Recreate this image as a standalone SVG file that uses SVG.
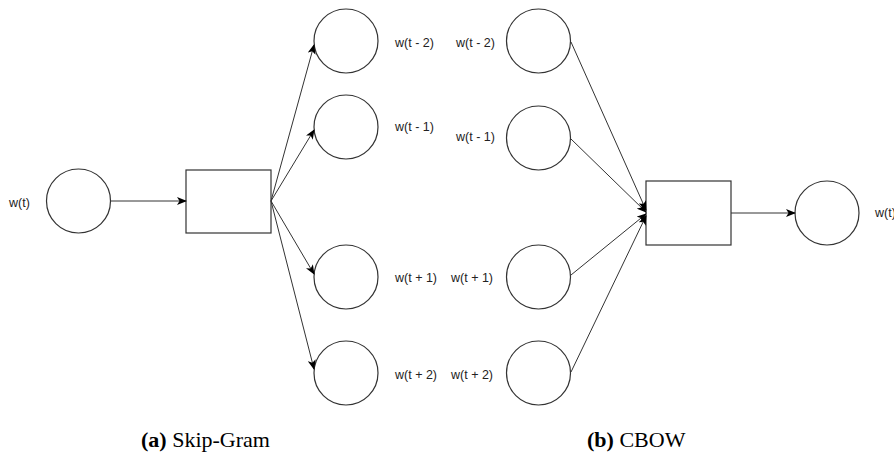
<svg xmlns="http://www.w3.org/2000/svg" width="894" height="452" viewBox="0 0 894 452">
<style>
.node{fill:#fff;stroke:#333;stroke-width:1.2}
.edge{fill:none;stroke:#333;stroke-width:1}
.lbl{font-family:"Liberation Sans",Arial,sans-serif;font-size:12.5px;fill:#222;dominant-baseline:central}
.cap{font-family:"Liberation Serif","Times New Roman",serif;font-size:22px;fill:#000}
</style>
<defs>
<marker id="arr" viewBox="0 0 10 8" refX="9" refY="4" markerWidth="10" markerHeight="8" markerUnits="userSpaceOnUse" orient="auto">
<path d="M0,0 L10,4 L0,8 L2.5,4 z" fill="#000"/>
</marker>
</defs>
<rect width="894" height="452" fill="#fff"/>

<!-- Skip-Gram -->
<g id="sg-input">
<circle class="node" cx="78.5" cy="201" r="32"/>
<text class="lbl" x="9" y="203">w(t)</text>
</g>
<g id="sg-proj">
<rect class="node" x="186" y="170" width="85" height="63"/>
</g>
<g id="sg-out1">
<circle class="node" cx="346" cy="41" r="32"/>
<text class="lbl" x="395" y="43">w(t - 2)</text>
</g>
<g id="sg-out2">
<circle class="node" cx="346" cy="127" r="32"/>
<text class="lbl" x="395" y="127">w(t - 1)</text>
</g>
<g id="sg-out3">
<circle class="node" cx="346" cy="277" r="32"/>
<text class="lbl" x="395" y="278">w(t + 1)</text>
</g>
<g id="sg-out4">
<circle class="node" cx="346" cy="373" r="32"/>
<text class="lbl" x="395" y="375">w(t + 2)</text>
</g>

<!-- CBOW -->
<g id="cb-in1">
<circle class="node" cx="538.5" cy="41" r="32"/>
<text class="lbl" x="456" y="43">w(t - 2)</text>
</g>
<g id="cb-in2">
<circle class="node" cx="538.5" cy="138" r="32"/>
<text class="lbl" x="456" y="137">w(t - 1)</text>
</g>
<g id="cb-in3">
<circle class="node" cx="538.5" cy="277" r="32"/>
<text class="lbl" x="451" y="278">w(t + 1)</text>
</g>
<g id="cb-in4">
<circle class="node" cx="538.5" cy="373" r="32"/>
<text class="lbl" x="451" y="375">w(t + 2)</text>
</g>
<g id="cb-proj">
<rect class="node" x="646" y="181" width="85" height="64"/>
</g>
<g id="cb-out">
<circle class="node" cx="827" cy="213" r="32"/>
<text class="lbl" x="875" y="213">w(t)</text>
</g>

<g id="connectors">
<line class="edge" x1="110.5" y1="201" x2="186" y2="201" marker-end="url(#arr)"/>
<line class="edge" x1="271" y1="201" x2="314" y2="45" marker-end="url(#arr)"/>
<line class="edge" x1="271" y1="201" x2="314" y2="130" marker-end="url(#arr)"/>
<line class="edge" x1="271" y1="201" x2="314" y2="274" marker-end="url(#arr)"/>
<line class="edge" x1="271" y1="201" x2="314" y2="369" marker-end="url(#arr)"/>
<line class="edge" x1="571" y1="42" x2="646" y2="210" marker-end="url(#arr)"/>
<line class="edge" x1="571" y1="139" x2="646" y2="212" marker-end="url(#arr)"/>
<line class="edge" x1="571" y1="275" x2="646" y2="214" marker-end="url(#arr)"/>
<line class="edge" x1="571" y1="372" x2="646" y2="216" marker-end="url(#arr)"/>
<line class="edge" x1="731" y1="213" x2="795" y2="213" marker-end="url(#arr)"/>
</g>

<text class="cap" x="141" y="447"><tspan font-weight="bold">(a)</tspan> Skip-Gram</text>
<text class="cap" x="587" y="447"><tspan font-weight="bold">(b)</tspan> CBOW</text>
</svg>
